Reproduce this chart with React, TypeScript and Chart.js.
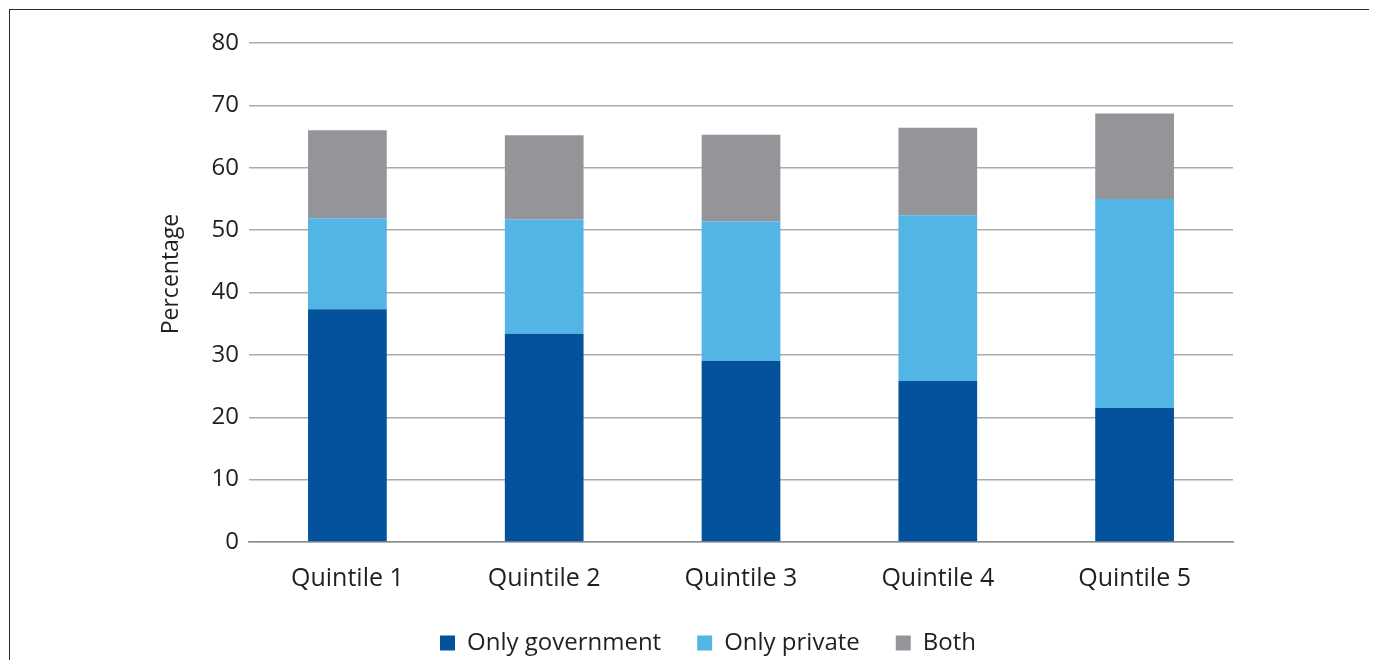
import React, { useEffect, useRef } from "react";
import { Chart, registerables } from "chart.js";

Chart.register(...registerables);

const quintiles = ["Quintile 1", "Quintile 2", "Quintile 3", "Quintile 4", "Quintile 5"];
const onlyGovernment = [37.3, 33.4, 29.0, 25.8, 21.5];
const onlyPrivate = [14.6, 18.3, 22.4, 26.6, 33.5];
const both = [14.1, 13.5, 13.9, 14.0, 13.7];
const seriesNames = ["Only government", "Only private", "Both"];
const seriesColors = ["#03529B", "#52B5E6", "#949599"];
const yTicks = [0, 10, 20, 30, 40, 50, 60, 70, 80];
const yTitle = "Percentage";

const FONT = "'Open Sans', Lato, sans-serif";
const TEXT = "#231F20";

// Vertical axis title, placed a little above the middle of the value axis.
const yTitlePlugin = {
  id: "yTitle",
  afterDraw(chart: any) {
    const { ctx } = chart;
    ctx.save();
    ctx.translate(163, 266);
    ctx.rotate(-Math.PI / 2);
    ctx.font = `23px ${FONT}`;
    ctx.fillStyle = TEXT;
    ctx.textAlign = "center";
    ctx.textBaseline = "middle";
    ctx.fillText(yTitle, 0, 0);
    ctx.restore();
  },
};

export default function App() {
  const canvasRef = useRef<HTMLCanvasElement | null>(null);

  useEffect(() => {
    if (!canvasRef.current) return;
    const chart = new Chart(canvasRef.current, {
      type: "bar",
      data: {
        labels: quintiles,
        datasets: [onlyGovernment, onlyPrivate, both].map((values, i) => ({
          label: seriesNames[i],
          data: values,
          backgroundColor: seriesColors[i],
          borderWidth: 0,
          categoryPercentage: 1,
          barPercentage: 0.4,
        })),
      },
      plugins: [yTitlePlugin],
      options: {
        responsive: false,
        animation: false,
        layout: { padding: { left: 175, right: 136, top: 35, bottom: -5 } },
        plugins: {
          tooltip: { enabled: false },
          legend: {
            position: "bottom",
            labels: {
              boxWidth: 15,
              boxHeight: 15,
              padding: 36,
              color: TEXT,
              font: { family: FONT, size: 24 },
            },
          },
        },
        scales: {
          x: {
            stacked: true,
            grid: { display: false, drawTicks: false },
            border: { display: true, color: "#8C8C8C", width: 1.5 },
            ticks: { color: TEXT, font: { family: FONT, size: 25 }, padding: 22 },
            afterFit: (scale: any) => {
              scale.height = 53;
            },
          },
          y: {
            stacked: true,
            min: 0,
            max: 80,
            afterBuildTicks: (scale: any) => {
              scale.ticks = yTicks.map((v) => ({ value: v }));
            },
            grid: { color: "#ABABAB", lineWidth: 1.5, drawTicks: false },
            border: { display: false },
            ticks: { color: TEXT, font: { family: FONT, size: 24 }, padding: 10 },
            afterFit: (scale: any) => {
              scale.width = 66;
            },
          },
        },
      },
    });
    return () => chart.destroy();
  }, []);

  return (
    <div style={{ position: "relative", width: 1361, height: 652 }}>
      <div
        style={{
          position: "absolute",
          left: 1,
          top: 1,
          right: 0,
          bottom: 0,
          borderLeft: "1.5px solid #2A2A2A",
          borderTop: "1.5px solid #2A2A2A",
          pointerEvents: "none",
        }}
      />
      <canvas ref={canvasRef} width={1361} height={652} style={{ display: "block" }} />
    </div>
  );
}
